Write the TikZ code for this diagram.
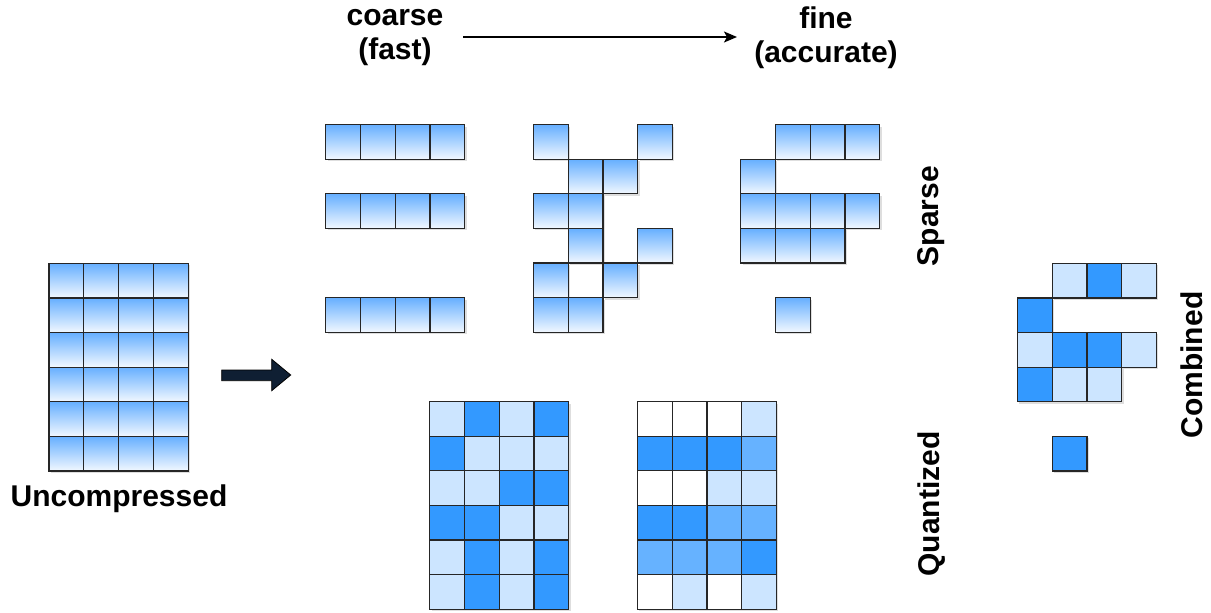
\documentclass[tikz,border=0pt]{standalone}
\usepackage{fontspec}
\setmainfont{Liberation Sans}
\usetikzlibrary{arrows.meta}
\definecolor{gtop}{HTML}{66AFFF}
\definecolor{gbot}{HTML}{F2F8FF}
\definecolor{qL}{HTML}{CCE5FF}
\definecolor{qD}{HTML}{3399FF}
\definecolor{qM}{HTML}{66B2FF}
\definecolor{navy}{HTML}{0F1F33}
\definecolor{edgec}{HTML}{262626}
\tikzset{
  cellbase/.style={rectangle, draw=edgec, line width=1.25pt, inner sep=0pt,
    minimum width=34.8pt, minimum height=34.6pt, anchor=north west},
  grad/.style={cellbase, top color=gtop, bottom color=gbot},
  cL/.style={cellbase, fill=qL},
  cD/.style={cellbase, fill=qD},
  cM/.style={cellbase, fill=qM},
  cW/.style={cellbase, fill=white},
  shade cell/.style={fill=black, opacity=0.13},
  lbl/.style={font=\bfseries\fontsize{30}{34}\selectfont, inner sep=0pt, text=black},
  toparrow/.style={line width=1.5pt, -{Stealth[length=13pt,width=11pt,inset=3pt]}},
  blockarrow/.style={fill=navy, draw=black, line width=0.8pt, line join=miter}
}
% #1 name, #2 x0, #3 y0, #4 list of col/row/style
\newcommand\cellgrid[4]{%
  \foreach \c/\r/\s in {#4} {
    \fill[shade cell] ({#2+\c*34.8+2.5},{#3+\r*34.6+2.5}) rectangle ++(34.8,34.6);
  }
  \foreach \c/\r/\s in {#4} {
    \node[\s] (#1-\r-\c) at ({#2+\c*34.8},{#3+\r*34.6}) {};
  }
}
\begin{document}
\begin{tikzpicture}[x=1pt,y=-1pt]
\useasboundingbox (0,0) rectangle (1211,613);

% Uncompressed
\cellgrid{u}{48.3}{262.7}{0/0/grad,1/0/grad,2/0/grad,3/0/grad,
 0/1/grad,1/1/grad,2/1/grad,3/1/grad,
 0/2/grad,1/2/grad,2/2/grad,3/2/grad,
 0/3/grad,1/3/grad,2/3/grad,3/3/grad,
 0/4/grad,1/4/grad,2/4/grad,3/4/grad,
 0/5/grad,1/5/grad,2/5/grad,3/5/grad}

% Sparse grids
\cellgrid{sa}{325}{124}{0/0/grad,1/0/grad,2/0/grad,3/0/grad,
 0/2/grad,1/2/grad,2/2/grad,3/2/grad,
 0/5/grad,1/5/grad,2/5/grad,3/5/grad}
\cellgrid{sb}{532.7}{124}{0/0/grad,3/0/grad,1/1/grad,2/1/grad,
 0/2/grad,1/2/grad,1/3/grad,3/3/grad,0/4/grad,2/4/grad,0/5/grad,1/5/grad}
\cellgrid{sc}{740}{124}{1/0/grad,2/0/grad,3/0/grad,0/1/grad,
 0/2/grad,1/2/grad,2/2/grad,3/2/grad,0/3/grad,1/3/grad,2/3/grad,1/5/grad}

% Quantized grids
\cellgrid{qa}{429}{401}{0/0/cL,1/0/cD,2/0/cL,3/0/cD,
 0/1/cD,1/1/cL,2/1/cL,3/1/cL,
 0/2/cL,1/2/cL,2/2/cD,3/2/cD,
 0/3/cD,1/3/cD,2/3/cL,3/3/cL,
 0/4/cL,1/4/cD,2/4/cL,3/4/cD,
 0/5/cL,1/5/cD,2/5/cL,3/5/cD}
\cellgrid{qb}{636.7}{401}{0/0/cW,1/0/cW,2/0/cW,3/0/cL,
 0/1/cD,1/1/cD,2/1/cD,3/1/cM,
 0/2/cW,1/2/cW,2/2/cL,3/2/cL,
 0/3/cD,1/3/cD,2/3/cM,3/3/cM,
 0/4/cM,1/4/cM,2/4/cM,3/4/cD,
 0/5/cW,1/5/cL,2/5/cW,3/5/cL}

% Combined
\cellgrid{cb}{1016.7}{262.7}{1/0/cL,2/0/cD,3/0/cL,0/1/cD,
 0/2/cL,1/2/cD,2/2/cD,3/2/cL,0/3/cD,1/3/cL,2/3/cL,1/5/cD}

% Labels
\node[lbl, align=center] (coarse) at (395,37.5) {coarse\\(fast)};
\node[lbl, align=center] (fine) at (826,37.5) {fine\\(accurate)};
\node[lbl] (uncomp) at (119,498.5) {Uncompressed};
\node[lbl, rotate=90] (sparse) at (931.5,216) {Sparse};
\node[lbl, rotate=90] (quant) at (931.5,504) {Quantized};
\node[lbl, rotate=90] (comb) at (1191.5,365) {Combined};

% top arrow
\coordinate (ta) at (463,37);
\coordinate (tb) at (737,37);
\draw[toparrow] (ta) -- (tb);

% block arrow
\filldraw[blockarrow] (221.7,370) -- (271.7,370) -- (271.7,359.3) -- (290.7,375)
  -- (271.7,390.7) -- (271.7,380.7) -- (221.7,380.7) -- cycle;
\end{tikzpicture}
\end{document}
